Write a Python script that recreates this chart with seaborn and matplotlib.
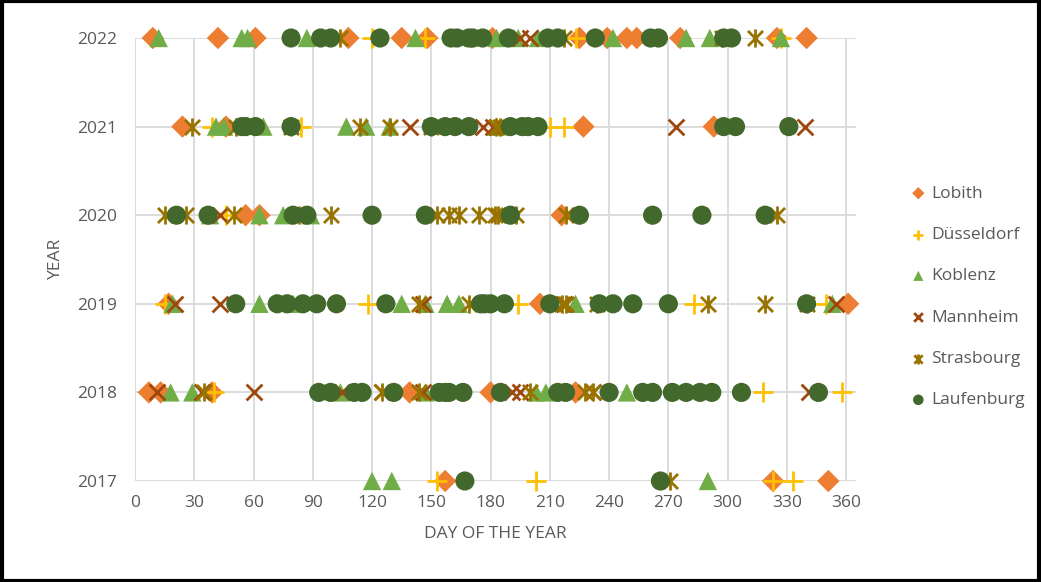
import matplotlib
matplotlib.use("Agg")
import matplotlib.pyplot as plt
import pandas as pd
import seaborn as sns
from matplotlib.path import Path
from matplotlib.patches import Rectangle

# Days of the year on which each gauge station recorded an event, per year
lobith = {
    2022: [9, 42, 61, 108, 135, 148, 181, 225, 239, 249, 254, 276, 325, 340],
    2021: [24, 46, 227, 293],
    2020: [56, 63, 216],
    2019: [17, 205, 361],
    2018: [7, 13, 39, 139, 180, 223],
    2017: [157, 323, 351],
}
duesseldorf = {
    2022: [120, 147, 223, 327],
    2021: [39, 84, 210, 217],
    2020: [46],
    2019: [15, 118, 194, 283, 350],
    2018: [40, 318, 358],
    2017: [153, 203, 323, 333],
}
koblenz = {
    2022: [12, 54, 57, 87, 142, 183, 194, 204, 242, 279, 291, 327],
    2021: [41, 45, 65, 107, 117, 129, 183],
    2020: [38, 63, 75, 89],
    2019: [19, 63, 80, 135, 147, 158, 164, 223, 353],
    2018: [18, 29, 104, 147, 203, 208, 249],
    2017: [120, 130, 290],
}
mannheim = {
    2022: [195, 200],
    2021: [139, 176, 181, 274, 339],
    2020: [43],
    2019: [20, 43, 146, 217, 355],
    2018: [11, 34, 60, 105, 125, 146, 191, 195, 232, 341],
    2017: [],
}
strasbourg = {
    2022: [104, 170, 217, 297, 314],
    2021: [29, 51, 79, 114, 129, 150, 183, 185],
    2020: [15, 26, 50, 83, 99, 153, 159, 164, 174, 182, 184, 193, 218, 325],
    2019: [144, 169, 216, 218, 234, 290, 319, 340],
    2018: [35, 125, 144, 200, 228, 232],
    2017: [271],
}
laufenburg = {
    2022: [79, 94, 99, 124, 160, 163, 169, 171, 176, 189, 209, 214, 233, 261, 265, 298, 302],
    2021: [54, 56, 61, 79, 150, 157, 162, 169, 190, 196, 199, 204, 298, 304, 331],
    2020: [21, 37, 80, 87, 120, 147, 190, 225, 262, 287, 319],
    2019: [51, 72, 77, 85, 92, 102, 127, 175, 177, 180, 187, 210, 235, 242, 252, 270, 340],
    2018: [93, 99, 111, 115, 131, 154, 157, 159, 166, 185, 214, 218, 240, 257, 262,
           272, 279, 286, 292, 307, 346],
    2017: [167, 266],
}

stations = ["Lobith", "Düsseldorf", "Koblenz", "Mannheim", "Strasbourg", "Laufenburg"]
series = [lobith, duesseldorf, koblenz, mannheim, strasbourg, laufenburg]
x_ticks = list(range(0, 361, 30))
y_ticks = [2017, 2018, 2019, 2020, 2021, 2022]

rows = []
for name, data in zip(stations, series):
    for year, days in data.items():
        for d in days:
            rows.append({"station": name, "day": d, "year": year})
df = pd.DataFrame(rows)

# Asterisk: an X with a vertical bar through it
asterisk = Path(
    [(-0.5, -0.5), (0.5, 0.5), (-0.5, 0.5), (0.5, -0.5), (0, -0.6), (0, 0.6)],
    [Path.MOVETO, Path.LINETO, Path.MOVETO, Path.LINETO, Path.MOVETO, Path.LINETO],
)

styles = {
    "Lobith": dict(marker="D", color="#ED7D31", s=130, kind="fill"),
    "Düsseldorf": dict(marker="+", color="#FFC000", s=190, kind="line"),
    "Koblenz": dict(marker="^", color="#70AD47", s=175, kind="fill"),
    "Mannheim": dict(marker="x", color="#9E480E", s=130, kind="line"),
    "Strasbourg": dict(marker=asterisk, color="#997300", s=170, kind="path"),
    "Laufenburg": dict(marker="o", color="#43682B", s=190, kind="fill"),
}

sns.set_theme(style="white")
plt.rcParams["font.family"] = ["Open Sans", "DejaVu Sans"]
text_color = "#595959"

fig = plt.figure(figsize=(10.41, 5.82), dpi=100)
ax = fig.add_axes([135 / 1041, 1 - 481 / 582, 721 / 1041, 443 / 582])

for name in stations:
    st = styles[name]
    sub = df[df["station"] == name]
    kw = dict(data=sub, x="day", y="year", ax=ax, marker=st["marker"], color=st["color"],
              s=st["s"], label=name, clip_on=False, zorder=3)
    if st["kind"] == "fill":
        kw.update(edgecolor="none", linewidth=0)
    elif st["kind"] == "line":
        kw.update(linewidth=2.0)
    else:
        kw.update(edgecolor=st["color"], linewidth=2.0)
    sns.scatterplot(**kw)

ax.set_xlim(0, 365)
ax.set_ylim(2017, 2022)
ax.set_xticks(x_ticks)
ax.set_yticks(y_ticks)
ax.set_xticklabels([str(t) for t in x_ticks])
ax.set_yticklabels([str(t) for t in y_ticks])
ax.grid(True, color="#D9D9D9", linewidth=1.3, zorder=0)
ax.set_axisbelow(True)
for sp in ax.spines.values():
    sp.set_visible(False)
ax.tick_params(axis="both", length=0, labelsize=12.5, labelcolor=text_color)
ax.tick_params(axis="y", pad=13)
ax.tick_params(axis="x", pad=10)
ax.set_xlabel("DAY OF THE YEAR", fontsize=12.5, color=text_color, labelpad=11)
ax.set_ylabel("YEAR", fontsize=12.5, color=text_color, labelpad=9)

leg = ax.legend(loc="center left", bbox_to_anchor=(894 / 1041, 1 - 297 / 582),
                bbox_transform=fig.transFigure, frameon=False, fontsize=12.5,
                labelspacing=1.45, handletextpad=0.25, markerscale=0.55,
                handlelength=1.0)
for t in leg.get_texts():
    t.set_color(text_color)

fig.patches.append(Rectangle((0.0015, 0.002), 0.997, 0.996, transform=fig.transFigure,
                             fill=False, edgecolor="black", linewidth=3, zorder=10))

fig.savefig("out.png", dpi=100)
